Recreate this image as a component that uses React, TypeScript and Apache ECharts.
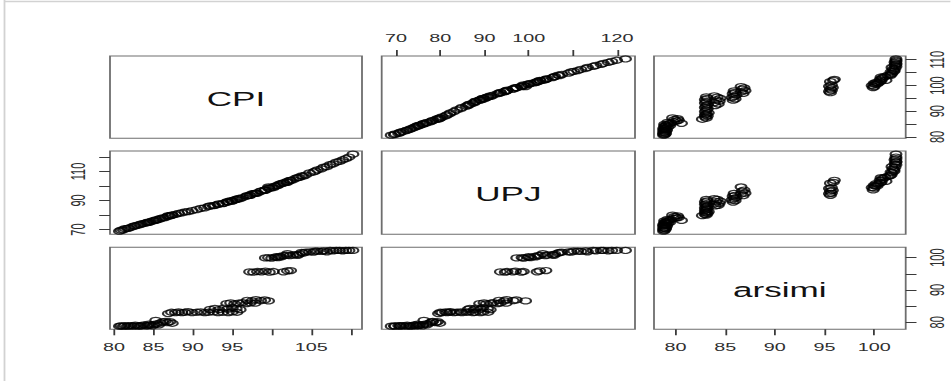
import React, { useEffect, useRef } from 'react';
import * as echarts from 'echarts';

// ---- data ----
const VAR_NAMES = ['CPI', 'UPJ', 'arsimi'];

const CPI = [
  80.7, 80.9, 81.2, 81.4, 81.7, 81.9, 82.2, 82.5, 82.7, 83.0, 83.3, 83.5, 83.8, 84.1, 84.3, 84.6, 84.9, 85.1, 85.4, 85.7, 85.9, 86.2, 86.5, 86.8, 87.1, 87.4, 84.4, 85.3,
  86.9, 87.3, 87.8, 88.2, 88.6, 89.0, 89.4, 89.9, 90.5, 91.0, 91.5, 92.0, 92.6, 93.2, 93.8, 94.5, 95.0, 95.6,
  92.2, 92.8, 93.3, 93.9, 94.4, 95.0, 95.5, 96.0,
  94.3, 94.8, 95.3, 95.8, 96.3, 96.8, 97.3, 97.9, 96.9, 97.5, 98.0, 98.6, 99.1, 99.6,
  97.2, 97.7, 98.2, 98.7, 99.2, 99.7, 100.2, 101.5, 102.0, 102.4,
  99.2, 99.6, 100.0, 100.4, 100.8, 101.2, 101.5, 101.9, 102.3, 102.7, 103.1, 103.5, 103.3, 103.8, 104.3, 104.8, 105.3, 105.8, 106.3, 106.6, 107.0, 107.4, 107.8, 108.2, 108.6, 109.0, 109.4, 109.8, 110.3, 100.6, 101.0, 102.0, 104.0, 105.5,
];

const UPJ = [
  68.9, 69.6, 69.8, 70.6, 70.9, 71.0, 71.6, 72.3, 72.5, 73.1, 73.4, 73.9, 74.2, 74.6, 75.1, 75.3, 76.0, 76.1, 76.8, 77.0, 77.7, 78.1, 78.3, 79.0, 79.4, 79.9, 74.9, 76.3,
  79.6, 80.0, 80.4, 81.2, 81.5, 82.1, 82.3, 83.1, 83.7, 84.6, 84.9, 85.9, 86.4, 87.4, 87.9, 89.1, 89.7, 90.8,
  86.3, 86.7, 87.7, 88.1, 89.2, 89.6, 90.7, 91.3,
  88.9, 89.9, 90.4, 91.5, 92.0, 93.0, 93.6, 94.9, 93.3, 94.5, 95.0, 96.5, 97.2, 99.3,
  93.6, 94.7, 95.1, 96.4, 97.0, 98.3, 98.8, 101.9, 102.5, 103.9,
  97.3, 98.5, 98.9, 99.9, 100.4, 101.6, 102.1, 102.6, 103.8, 104.2, 105.4, 105.9, 105.7, 107.0, 107.5, 109.0, 109.6, 111.1, 111.8, 112.9, 113.3, 114.6, 115.2, 116.4, 116.9, 118.0, 118.8, 119.9, 121.9, 100.0, 101.3, 103.2, 106.7, 110.2,
];

const ARSIMI = [
  78.8, 78.9, 78.8, 79.0, 78.8, 78.9, 79.0, 78.8, 79.1, 78.9, 78.8, 79.0, 79.2, 78.9, 79.0, 79.1, 78.9, 79.3, 79.5, 79.2, 79.8, 80.1, 80.3, 79.9, 80.2, 79.7, 79.4, 80.6,
  82.7, 83.1, 83.0, 83.2, 83.0, 83.1, 83.3, 83.0, 83.1, 83.2, 83.0, 83.1, 83.2, 83.0, 83.1, 83.0, 83.2, 83.1,
  84.0, 84.3, 83.9, 84.4, 84.1, 84.5, 84.2, 83.9,
  85.8, 86.0, 85.7, 85.9, 86.1, 85.8, 86.0, 85.9, 86.8, 86.6, 87.0, 86.7, 86.9, 86.6,
  95.6, 95.5, 95.7, 95.6, 95.8, 95.5, 95.7, 95.6, 95.9, 96.0,
  99.9, 100.0, 99.8, 100.1, 100.0, 100.2, 100.6, 100.7, 100.6, 100.8, 100.9, 101.1, 100.7, 101.6, 101.7, 101.8, 101.7, 102.0, 101.9, 102.1, 101.8, 102.2, 102.1, 102.2, 102.2, 102.1, 102.2, 102.2, 102.2, 100.3, 100.4, 101.2, 101.4, 102.0,
];

// tick positions and the tick labels that are printed
const CPI_TICKS = [80, 85, 90, 95, 100, 105, 110];
const UPJ_TICKS = [70, 80, 90, 100, 110, 120];
const ARSIMI_TICKS = [80, 85, 90, 95, 100];
const CPI_LABELS_BOTTOM = [80, 85, 90, 95, 105];
const CPI_LABELS_RIGHT = [80, 90, 100, 110];
const UPJ_LABELS_TOP = [70, 80, 90, 100, 120];
const UPJ_LABELS_LEFT = [70, 90, 110];
const ARSIMI_LABELS_BOTTOM = [80, 85, 90, 95, 100];
const ARSIMI_LABELS_RIGHT = [80, 90, 100];

// ---- layout ----
const STRETCH = 1.8; // the reference image is horizontally stretched
const W = 951;
const H = 381;
const BASE_W = W / STRETCH;
const COL_LEFT = [110 / STRETCH, 381.7 / STRETCH, 654 / STRETCH];
const COL_W = [252 / STRETCH, 253.3 / STRETCH, 251.7 / STRETCH];
const ROW_TOP = [56, 151, 247.3];
const ROW_H = [82.3, 83.3, 82];
const RANGES = [
  [79.5, 111.45],
  [66.75, 124.05],
  [77.83, 103.18],
];
const FONT = 'Liberation Sans, Arial, Helvetica, sans-serif';

export default function App() {
  const ref = useRef<HTMLDivElement>(null);

  useEffect(() => {
    if (!ref.current) return;
    const chart = echarts.init(ref.current, null, { renderer: 'svg' });
    const DATA = [CPI, UPJ, ARSIMI];
    const TICKS = [CPI_TICKS, UPJ_TICKS, ARSIMI_TICKS];

    const grids: any[] = [];
    const xAxes: any[] = [];
    const yAxes: any[] = [];
    const series: any[] = [];
    const graphics: any[] = [];

    for (let i = 0; i < 3; i++) {
      for (let j = 0; j < 3; j++) {
        const k = i * 3 + j;
        grids.push({
          left: COL_LEFT[j],
          top: ROW_TOP[i],
          width: COL_W[j],
          height: ROW_H[i],
          show: true,
          borderColor: '#6e6e6e',
          borderWidth: 1,
          backgroundColor: 'transparent',
          containLabel: false,
        });

        const xShow = (i === 0 && j === 1) || (i === 2 && (j === 0 || j === 2));
        const xLabels = j === 0 ? CPI_LABELS_BOTTOM : j === 1 ? UPJ_LABELS_TOP : ARSIMI_LABELS_BOTTOM;
        xAxes.push({
          type: 'value',
          gridIndex: k,
          min: RANGES[j][0],
          max: RANGES[j][1],
          position: i === 0 ? 'top' : 'bottom',
          axisLine: { show: false },
          splitLine: { show: false },
          axisTick: {
            show: xShow,
            length: 6,
            customValues: TICKS[j],
            lineStyle: { color: '#3a3a3a', width: 1 },
          },
          axisLabel: {
            show: xShow,
            customValues: xLabels,
            margin: 12,
            fontSize: 11,
            fontFamily: FONT,
            color: '#2e2e2e',
          },
        });

        const yShow = (i === 1 && j === 0) || (j === 2 && (i === 0 || i === 2));
        const yLabels = i === 0 ? CPI_LABELS_RIGHT : i === 1 ? UPJ_LABELS_LEFT : ARSIMI_LABELS_RIGHT;
        yAxes.push({
          type: 'value',
          gridIndex: k,
          min: RANGES[i][0],
          max: RANGES[i][1],
          position: j === 0 ? 'left' : 'right',
          axisLine: { show: false },
          splitLine: { show: false },
          axisTick: {
            show: yShow,
            length: 6,
            customValues: TICKS[i],
            lineStyle: { color: '#3a3a3a', width: 1 },
          },
          axisLabel: {
            show: yShow,
            customValues: yLabels,
            rotate: 90,
            margin: 12,
            fontSize: 11,
            fontFamily: FONT,
            color: '#2e2e2e',
          },
        });

        if (i !== j) {
          const xs = DATA[j];
          const ys = DATA[i];
          series.push({
            type: 'scatter',
            xAxisIndex: k,
            yAxisIndex: k,
            symbol: 'circle',
            symbolSize: 6,
            silent: true,
            itemStyle: { color: 'rgba(0,0,0,0)', borderColor: '#000', borderWidth: 1.2 },
            data: xs.map((x, n) => [x, ys[n]]),
          });
        } else {
          graphics.push({
            type: 'text',
            x: COL_LEFT[j] + COL_W[j] / 2,
            y: ROW_TOP[i] + ROW_H[i] / 2 + 1.5,
            style: {
              text: VAR_NAMES[i],
              fontSize: 19.5,
              fontFamily: FONT,
              fill: '#111',
              align: 'center',
              verticalAlign: 'middle',
            },
          });
        }
      }
    }

    // light frame of the original image (left and top edges)
    graphics.push({
      type: 'line',
      shape: { x1: 2.5, y1: 0, x2: 2.5, y2: H },
      style: { stroke: '#d2d2d2', lineWidth: 1 },
    });
    graphics.push({
      type: 'line',
      shape: { x1: 2.5, y1: 1.5, x2: BASE_W, y2: 1.5 },
      style: { stroke: '#d2d2d2', lineWidth: 1.5 },
    });

    chart.setOption({
      animation: false,
      backgroundColor: '#fff',
      grid: grids,
      xAxis: xAxes,
      yAxis: yAxes,
      series,
      graphic: graphics,
    });

    return () => chart.dispose();
  }, []);

  return (
    <div
      ref={ref}
      style={{
        position: 'fixed',
        left: 0,
        top: 0,
        width: BASE_W,
        height: H,
        transform: `scaleX(${STRETCH})`,
        transformOrigin: '0 0',
        background: '#fff',
      }}
    />
  );
}
